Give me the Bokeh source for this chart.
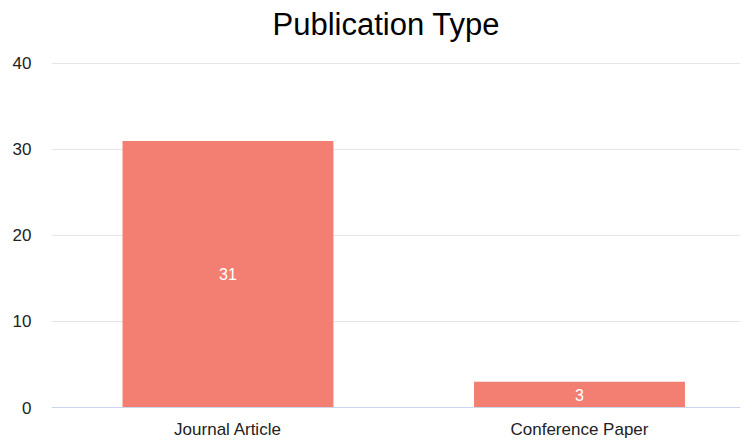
from bokeh.plotting import figure
from bokeh.models import ColumnDataSource, Range1d, FixedTicker, LabelSet
from bokeh.core.properties import value
from bokeh.embed import file_html
from bokeh.resources import INLINE

categories = ["Journal Article", "Conference Paper"]
counts = [31, 3]
y_ticks = [0, 10, 20, 30, 40]

FONT = "Liberation Sans"
BAR = "#F37F72"

xs = list(range(len(categories)))
src = ColumnDataSource(dict(x=xs, top=counts, mid=[c / 2 for c in counts],
                            lab=[str(c) for c in counts]))

p = figure(width=747, height=441, output_backend="svg", toolbar_location=None,
           x_range=Range1d(-0.502, 1.458), y_range=Range1d(0, 42.09),
           min_border_left=51, min_border_right=7, min_border_bottom=34,
           min_border_top=0)
p.title.text = "Publication Type"
p.title.align = "left"
p.title.text_font = FONT
p.title.text_font_size = "31px"
p.title.text_font_style = "normal"
p.title.text_color = "#000000"
p.title.offset = 221
p.title.standoff = 8

p.vbar(x="x", top="top", width=0.6, bottom=0, source=src, color=BAR, line_color=None)
p.add_layout(LabelSet(x="x", y="mid", text="lab", source=src, text_align="center",
                      text_baseline="middle", text_color="white",
                      text_font=value(FONT), text_font_size=value("16px")))

p.outline_line_color = None
p.background_fill_color = "white"
p.border_fill_color = "white"

p.xgrid.grid_line_color = None
p.ygrid.grid_line_color = "#e6e6e6"
p.ygrid.ticker = FixedTicker(ticks=y_ticks)

p.xaxis.ticker = FixedTicker(ticks=xs)
p.xaxis.major_label_overrides = {i: c for i, c in enumerate(categories)}
p.xaxis.axis_line_color = "#ccd6eb"
p.xaxis.major_tick_line_color = None
p.xaxis.major_tick_out = 0
p.xaxis.major_tick_in = 0
p.xaxis.minor_tick_line_color = None
p.xaxis.major_label_text_font = FONT
p.xaxis.major_label_text_font_size = "17px"
p.xaxis.major_label_text_color = "#222222"
p.xaxis.major_label_standoff = 12

p.yaxis.ticker = FixedTicker(ticks=y_ticks)
p.yaxis.axis_line_color = None
p.yaxis.major_tick_line_color = None
p.yaxis.major_tick_out = 0
p.yaxis.major_tick_in = 0
p.yaxis.minor_tick_line_color = None
p.yaxis.major_label_text_font = FONT
p.yaxis.major_label_text_font_size = "17px"
p.yaxis.major_label_text_color = "#222222"
p.yaxis.major_label_standoff = 20

open("out.html", "w").write(file_html(p, INLINE))
